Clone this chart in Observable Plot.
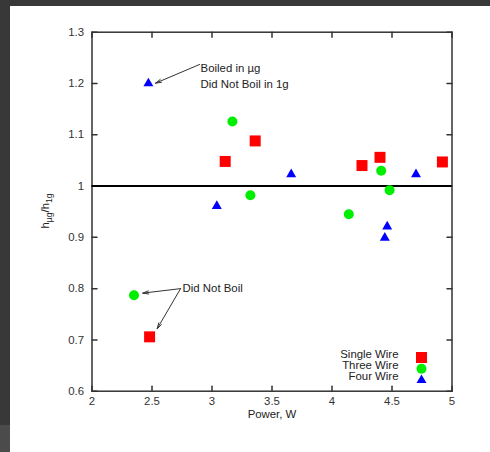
<!DOCTYPE html>
<html><head><meta charset="utf-8">
<script src="https://cdn.jsdelivr.net/npm/d3@7"></script>
<script src="https://cdn.jsdelivr.net/npm/@observablehq/plot@0.6"></script>
<style>
body{margin:0;background:#fff;width:490px;height:452px;overflow:hidden;position:relative;font-family:"Liberation Sans",Arial,sans-serif}
#chart{position:absolute;left:0;top:0}
.band{position:absolute}
</style></head><body>
<div id="chart"></div>
<div class="band" style="left:0;top:0;width:490px;height:6px;background:#383838"></div>
<div class="band" style="left:0;top:0;width:10px;height:425px;background:#383838"></div>
<div class="band" style="left:0;top:425px;width:10px;height:27px;background:#4b4b4b"></div>
<script>
const singleX = [3.11, 3.36, 4.25, 4.40, 4.92, 2.48];
const singleY = [1.048, 1.088, 1.040, 1.056, 1.047, 0.706];
const threeX = [3.17, 3.32, 4.14, 4.41, 4.48, 2.35];
const threeY = [1.126, 0.982, 0.945, 1.030, 0.992, 0.787];
const fourX = [2.47, 3.04, 3.66, 4.46, 4.44, 4.70];
const fourY = [1.200, 0.961, 1.023, 0.921, 0.899, 1.023];
const seriesNames = ["Single Wire", "Three Wire", "Four Wire"];
const seriesColors = ["#ff0000", "#00ee00", "#0000ff"];
const seriesSymbols = ["square", "circle", "triangle"];
const seriesR = [6.2, 5, 3.7];
const xTicks = [2, 2.5, 3, 3.5, 4, 4.5, 5];
const yTicks = [0.6, 0.7, 0.8, 0.9, 1, 1.1, 1.2, 1.3];
const xDomain = [2, 5];
const yDomain = [0.6, 1.3];
const xLabel = "Power, W";
const annot1Text = "Boiled in µg\nDid Not Boil in 1g";
const annot1Pos = [2.905, 1.2166];
const annot1Arrow = [[2.896, 1.237, 2.529, 1.2006]];
const annot2Text = "Did Not Boil";
const annot2Pos = [2.755, 0.800];
const annot2Arrows = [[2.738, 0.800, 2.423, 0.7912], [2.738, 0.800, 2.543, 0.7218]];

const seriesX = [singleX, threeX, fourX];
const seriesY = [singleY, threeY, fourY];
const ink = "#333";
const fs = 11.4;
const tickShape = {draw(ctx, l) { ctx.moveTo(0, 0); ctx.lineTo(0, -l); }};
const legendDy = [-33.7, -22.5, -11.5];

const marks = [
  Plot.frame({stroke: ink, strokeWidth: 1.5}),
  Plot.vector(xTicks, {x: d => d, y: () => yDomain[0], length: 5, rotate: 0, anchor: "start", shape: tickShape, stroke: ink}),
  Plot.vector(xTicks, {x: d => d, y: () => yDomain[1], length: 5, rotate: 180, anchor: "start", shape: tickShape, stroke: ink}),
  Plot.vector(yTicks, {x: () => xDomain[0], y: d => d, length: 5, rotate: 90, anchor: "start", shape: tickShape, stroke: ink}),
  Plot.vector(yTicks, {x: () => xDomain[1], y: d => d, length: 5, rotate: -90, anchor: "start", shape: tickShape, stroke: ink}),
  Plot.axisX(xTicks, {tickSize: 0, tickPadding: 6, tickFormat: d => String(d), label: null, fill: ink}),
  Plot.axisY(yTicks, {tickSize: 0, tickPadding: 8, tickFormat: d => String(d), label: null, fill: ink}),
  Plot.ruleY([1], {stroke: "#000", strokeWidth: 2}),
  Plot.text([xLabel], {frameAnchor: "bottom", dy: 27, text: d => d, fill: "#222", fontSize: fs}),
  Plot.text([annot1Text], {x: () => annot1Pos[0], y: () => annot1Pos[1], text: d => d, textAnchor: "start", lineHeight: 1.37, fill: "#222", fontSize: fs}),
  Plot.arrow(annot1Arrow, {x1: d => d[0], y1: d => d[1], x2: d => d[2], y2: d => d[3], stroke: ink, strokeWidth: 1, headLength: 9, headAngle: 30}),
  Plot.text([annot2Text], {x: () => annot2Pos[0], y: () => annot2Pos[1], text: d => d, textAnchor: "start", fill: "#222", fontSize: fs}),
  Plot.arrow(annot2Arrows, {x1: d => d[0], y1: d => d[1], x2: d => d[2], y2: d => d[3], stroke: ink, strokeWidth: 1, headLength: 9, headAngle: 30})
];
seriesNames.forEach((name, i) => {
  marks.push(Plot.dot(seriesX[i].map((x, j) => ({x, y: seriesY[i][j]})), {x: "x", y: "y", symbol: () => seriesSymbols[i], r: seriesR[i], fill: seriesColors[i], stroke: "none"}));
  marks.push(Plot.text([name], {frameAnchor: "bottom-right", dx: -53.5, dy: legendDy[i], text: d => d, textAnchor: "end", fill: "#222", fontSize: fs}));
  marks.push(Plot.dot([name], {frameAnchor: "bottom-right", dx: -30.5, dy: legendDy[i] + (i === 2 ? 0.5 : 0), symbol: seriesSymbols[i], r: seriesR[i], fill: seriesColors[i], stroke: "none"}));
});

const plot = Plot.plot({
  width: 490, height: 452,
  marginLeft: 91.5, marginRight: 38.5, marginTop: 31.7, marginBottom: 61.3,
  x: {domain: xDomain},
  y: {domain: yDomain},
  symbol: {type: "identity"},
  style: {fontFamily: "'Liberation Sans', Arial, sans-serif", fontSize: fs + "px", background: "#fff", color: ink},
  marks
});
document.getElementById("chart").appendChild(plot);

const svg = d3.select(plot);
const lab = svg.append("text")
  .attr("transform", "translate(49,211) rotate(-90)")
  .attr("text-anchor", "middle")
  .attr("fill", "#222")
  .style("font-size", fs + "px")
  .style("font-family", "'Liberation Sans', Arial, sans-serif");
lab.append("tspan").text("h");
lab.append("tspan").attr("dy", 3).style("font-size", "8.5px").text("µg");
lab.append("tspan").attr("dy", -3).text("/h");
lab.append("tspan").attr("dy", 3).style("font-size", "8.5px").text("1g");
</script>
</body></html>
